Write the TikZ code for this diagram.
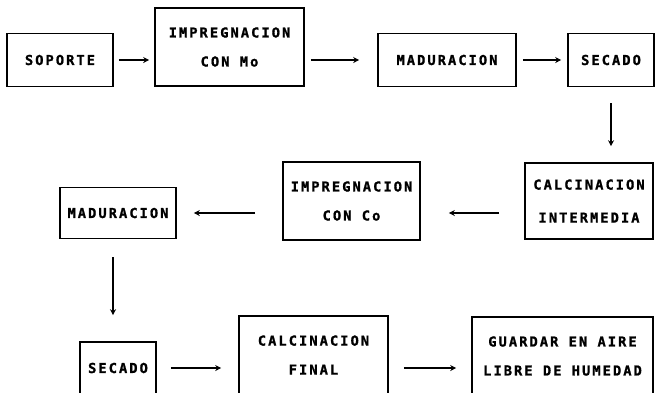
\documentclass[tikz,border=0pt]{standalone}
\usepackage{fontspec}
\newfontfamily\boxfont{DejaVu Sans Mono Bold}[LetterSpace=15,FakeBold=1.2]
\usetikzlibrary{arrows.meta}
\begin{document}
\begin{tikzpicture}[x=1pt,y=-1pt,
  box/.style={draw,line width=1.6pt,align=center,inner sep=0pt,
    font=\boxfont\fontsize{13.7}{16}\selectfont},
  flow/.style={line width=1.8pt,-{Stealth[length=6pt,width=6pt]}}]
\useasboundingbox (0,0) rectangle (655,392);
\node[box,minimum width=106pt,minimum height=53pt] (soporte) at (60,60) {SOPORTE};
\node[box,minimum width=149pt,minimum height=78pt] (impMo) at (229.5,47) {IMPREGNACION\\[13pt]CON Mo};
\node[box,minimum width=138pt,minimum height=53pt] (madA) at (447,60) {MADURACION};
\node[box,minimum width=86pt,minimum height=53pt] (secA) at (611,60) {SECADO};
\node[box,minimum width=128pt,minimum height=76pt] (calcI) at (589,201) {CALCINACION\\[17pt]INTERMEDIA};
\node[box,minimum width=137pt,minimum height=78pt] (impCo) at (351.5,201) {IMPREGNACION\\[13pt]CON Co};
\node[box,minimum width=116pt,minimum height=51pt] (madB) at (118,213) {MADURACION};
\node[box,minimum width=76pt,minimum height=52pt] (secB) at (118,368) {SECADO};
\node[box,minimum width=149pt,minimum height=78pt] (calcF) at (313.5,355) {CALCINACION\\[13pt]FINAL};
\node[box,minimum width=181pt,minimum height=78pt] (guardar) at (562.5,356) {GUARDAR EN AIRE\\[13pt]LIBRE DE HUMEDAD};
% first row
\draw[flow,shorten <=5pt,shorten >=5pt] (soporte.east) -- (impMo.west |- soporte);
\draw[flow,shorten <=6pt,shorten >=18pt] (impMo.east |- madA) -- (madA.west);
\draw[flow,shorten <=6pt,shorten >=6pt] (madA.east) -- (secA.west);
\draw[flow,shorten <=16pt,shorten >=16pt] (secA.south) -- (secA |- calcI.north);
% second row
\draw[flow,shorten <=25pt,shorten >=28pt] (calcI.west |- madB) -- (impCo.east |- madB);
\draw[flow,shorten <=27pt,shorten >=17pt] (impCo.west |- madB) -- (madB.east);
\draw[flow,shorten <=18pt,shorten >=26pt] ([xshift=-5pt]madB.south) -- ([xshift=-5pt]secB.north);
% third row
\draw[flow,shorten <=14pt,shorten >=17pt] (secB.east) -- (calcF.west |- secB);
\draw[flow,shorten <=15pt,shorten >=15pt] (calcF.east |- secB) -- (guardar.west |- secB);
\end{tikzpicture}
\end{document}
